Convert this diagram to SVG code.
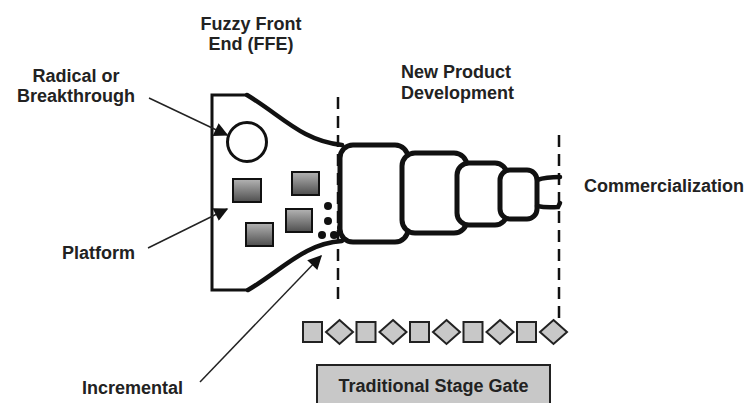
<svg xmlns="http://www.w3.org/2000/svg" width="748" height="403" viewBox="0 0 748 403">
<style>
  .lbl { font-family: "Liberation Sans", Arial, sans-serif; font-weight: bold; font-size: 18px; fill: #222; }
  .thin { fill: none; stroke: #222; stroke-width: 1.5; }
  .ffe { fill: none; stroke: #111; stroke-width: 3; }
  .curve { fill: none; stroke: #111; stroke-width: 4.5; stroke-linecap: round; }
  .box { fill: #fff; stroke: #111; stroke-width: 5; }
  .dash { fill: none; stroke: #111; stroke-width: 2.5; stroke-dasharray: 12 7; }
  .idea { fill: url(#g); stroke: #111; stroke-width: 2; }
  .gate { fill: #c8c8c8; stroke: #222; stroke-width: 2; }
  .dot { fill: #111; }
</style>
<defs>
  <linearGradient id="g" x1="0" y1="0" x2="0" y2="1">
    <stop offset="0" stop-color="#b4b4b4"/>
    <stop offset="1" stop-color="#4e4e4e"/>
  </linearGradient>
  <marker id="ah" viewBox="0 0 10 10" refX="9" refY="5" markerWidth="10" markerHeight="10" markerUnits="userSpaceOnUse" orient="auto">
    <path d="M0,0 L10,5 L0,10 z" fill="#111"/>
  </marker>
  <marker id="ahb" viewBox="0 0 10 10" refX="9" refY="5" markerWidth="16" markerHeight="14" markerUnits="userSpaceOnUse" orient="auto">
    <path d="M0,0 L10,5 L0,10 z" fill="#111"/>
  </marker>
</defs>

<g id="ffe">
  <path class="ffe" d="M247,95 L212,95 L212,290 L248,290"/>
  <path class="curve" d="M247,95 C282,116 302,141 342,145"/>
  <path class="curve" d="M248,290 C282,270 305,243 342,241"/>
  <circle cx="247" cy="142" r="19.5" fill="#fff" stroke="#111" stroke-width="3"/>
  <rect class="idea" x="233" y="179" width="28" height="23"/>
  <rect class="idea" x="292" y="172" width="27" height="23"/>
  <rect class="idea" x="286" y="209" width="26" height="23"/>
  <rect class="idea" x="246" y="223" width="27" height="23"/>
  <circle class="dot" cx="328" cy="206" r="4"/>
  <circle class="dot" cx="328" cy="221" r="4"/>
  <circle class="dot" cx="322" cy="235" r="4"/>
  <circle class="dot" cx="334" cy="235" r="4"/>
  <circle class="dot" cx="341" cy="228" r="4"/>
</g>

<g id="npd">
  <rect class="box" x="340" y="145" width="68" height="97" rx="13"/>
  <rect class="box" x="402" y="153" width="65" height="80" rx="13"/>
  <rect class="box" x="457" y="163" width="50" height="62" rx="12"/>
  <rect class="box" x="500" y="170" width="37" height="49" rx="10"/>
  <path class="curve" d="M537,180 Q546,177 560,177"/>
  <path class="curve" d="M537,206 Q546,208 558,207 L560,203"/>
</g>

<g id="dividers">
  <line class="dash" x1="338" y1="97" x2="338" y2="305"/>
  <line class="dash" x1="559" y1="135" x2="559" y2="330"/>
</g>

<g id="stage-gate">
  <rect class="gate" x="303" y="322" width="19" height="20"/>
  <path class="gate" d="M339.5,320 L353,332 L339.5,344 L326,332 z"/>
  <rect class="gate" x="356.5" y="322" width="19" height="20"/>
  <path class="gate" d="M393,320 L406.5,332 L393,344 L379.5,332 z"/>
  <rect class="gate" x="410" y="322" width="19" height="20"/>
  <path class="gate" d="M446.5,320 L460,332 L446.5,344 L433,332 z"/>
  <rect class="gate" x="463.5" y="322" width="19" height="20"/>
  <path class="gate" d="M500,320 L513.5,332 L500,344 L486.5,332 z"/>
  <rect class="gate" x="517" y="322" width="19" height="20"/>
  <path class="gate" d="M553.5,320 L567,332 L553.5,344 L540,332 z"/>
</g>

<g id="stage-gate-label">
  <rect class="gate" x="317" y="365" width="233" height="45"/>
  <text class="lbl" x="433.5" y="392" text-anchor="middle">Traditional Stage Gate</text>
</g>

<g id="labels">
  <text class="lbl" x="251" y="30" text-anchor="middle">Fuzzy Front</text>
  <text class="lbl" x="251" y="50" text-anchor="middle">End (FFE)</text>
  <text class="lbl" x="76" y="82" text-anchor="middle">Radical or</text>
  <text class="lbl" x="76" y="102" text-anchor="middle">Breakthrough</text>
  <text class="lbl" x="401" y="78" text-anchor="start">New Product</text>
  <text class="lbl" x="401" y="99" text-anchor="start">Development</text>
  <text class="lbl" x="584" y="192" text-anchor="start">Commercialization</text>
  <text class="lbl" x="62" y="259" text-anchor="start">Platform</text>
  <text class="lbl" x="82" y="394" text-anchor="start">Incremental</text>
</g>

<g id="connectors">
  <line class="thin" x1="149" y1="98" x2="227" y2="135" marker-end="url(#ahb)"/>
  <line class="thin" x1="148" y1="248" x2="227" y2="209" marker-end="url(#ahb)"/>
  <line class="thin" x1="200" y1="382" x2="321" y2="256" marker-end="url(#ahb)"/>
</g>
</svg>
